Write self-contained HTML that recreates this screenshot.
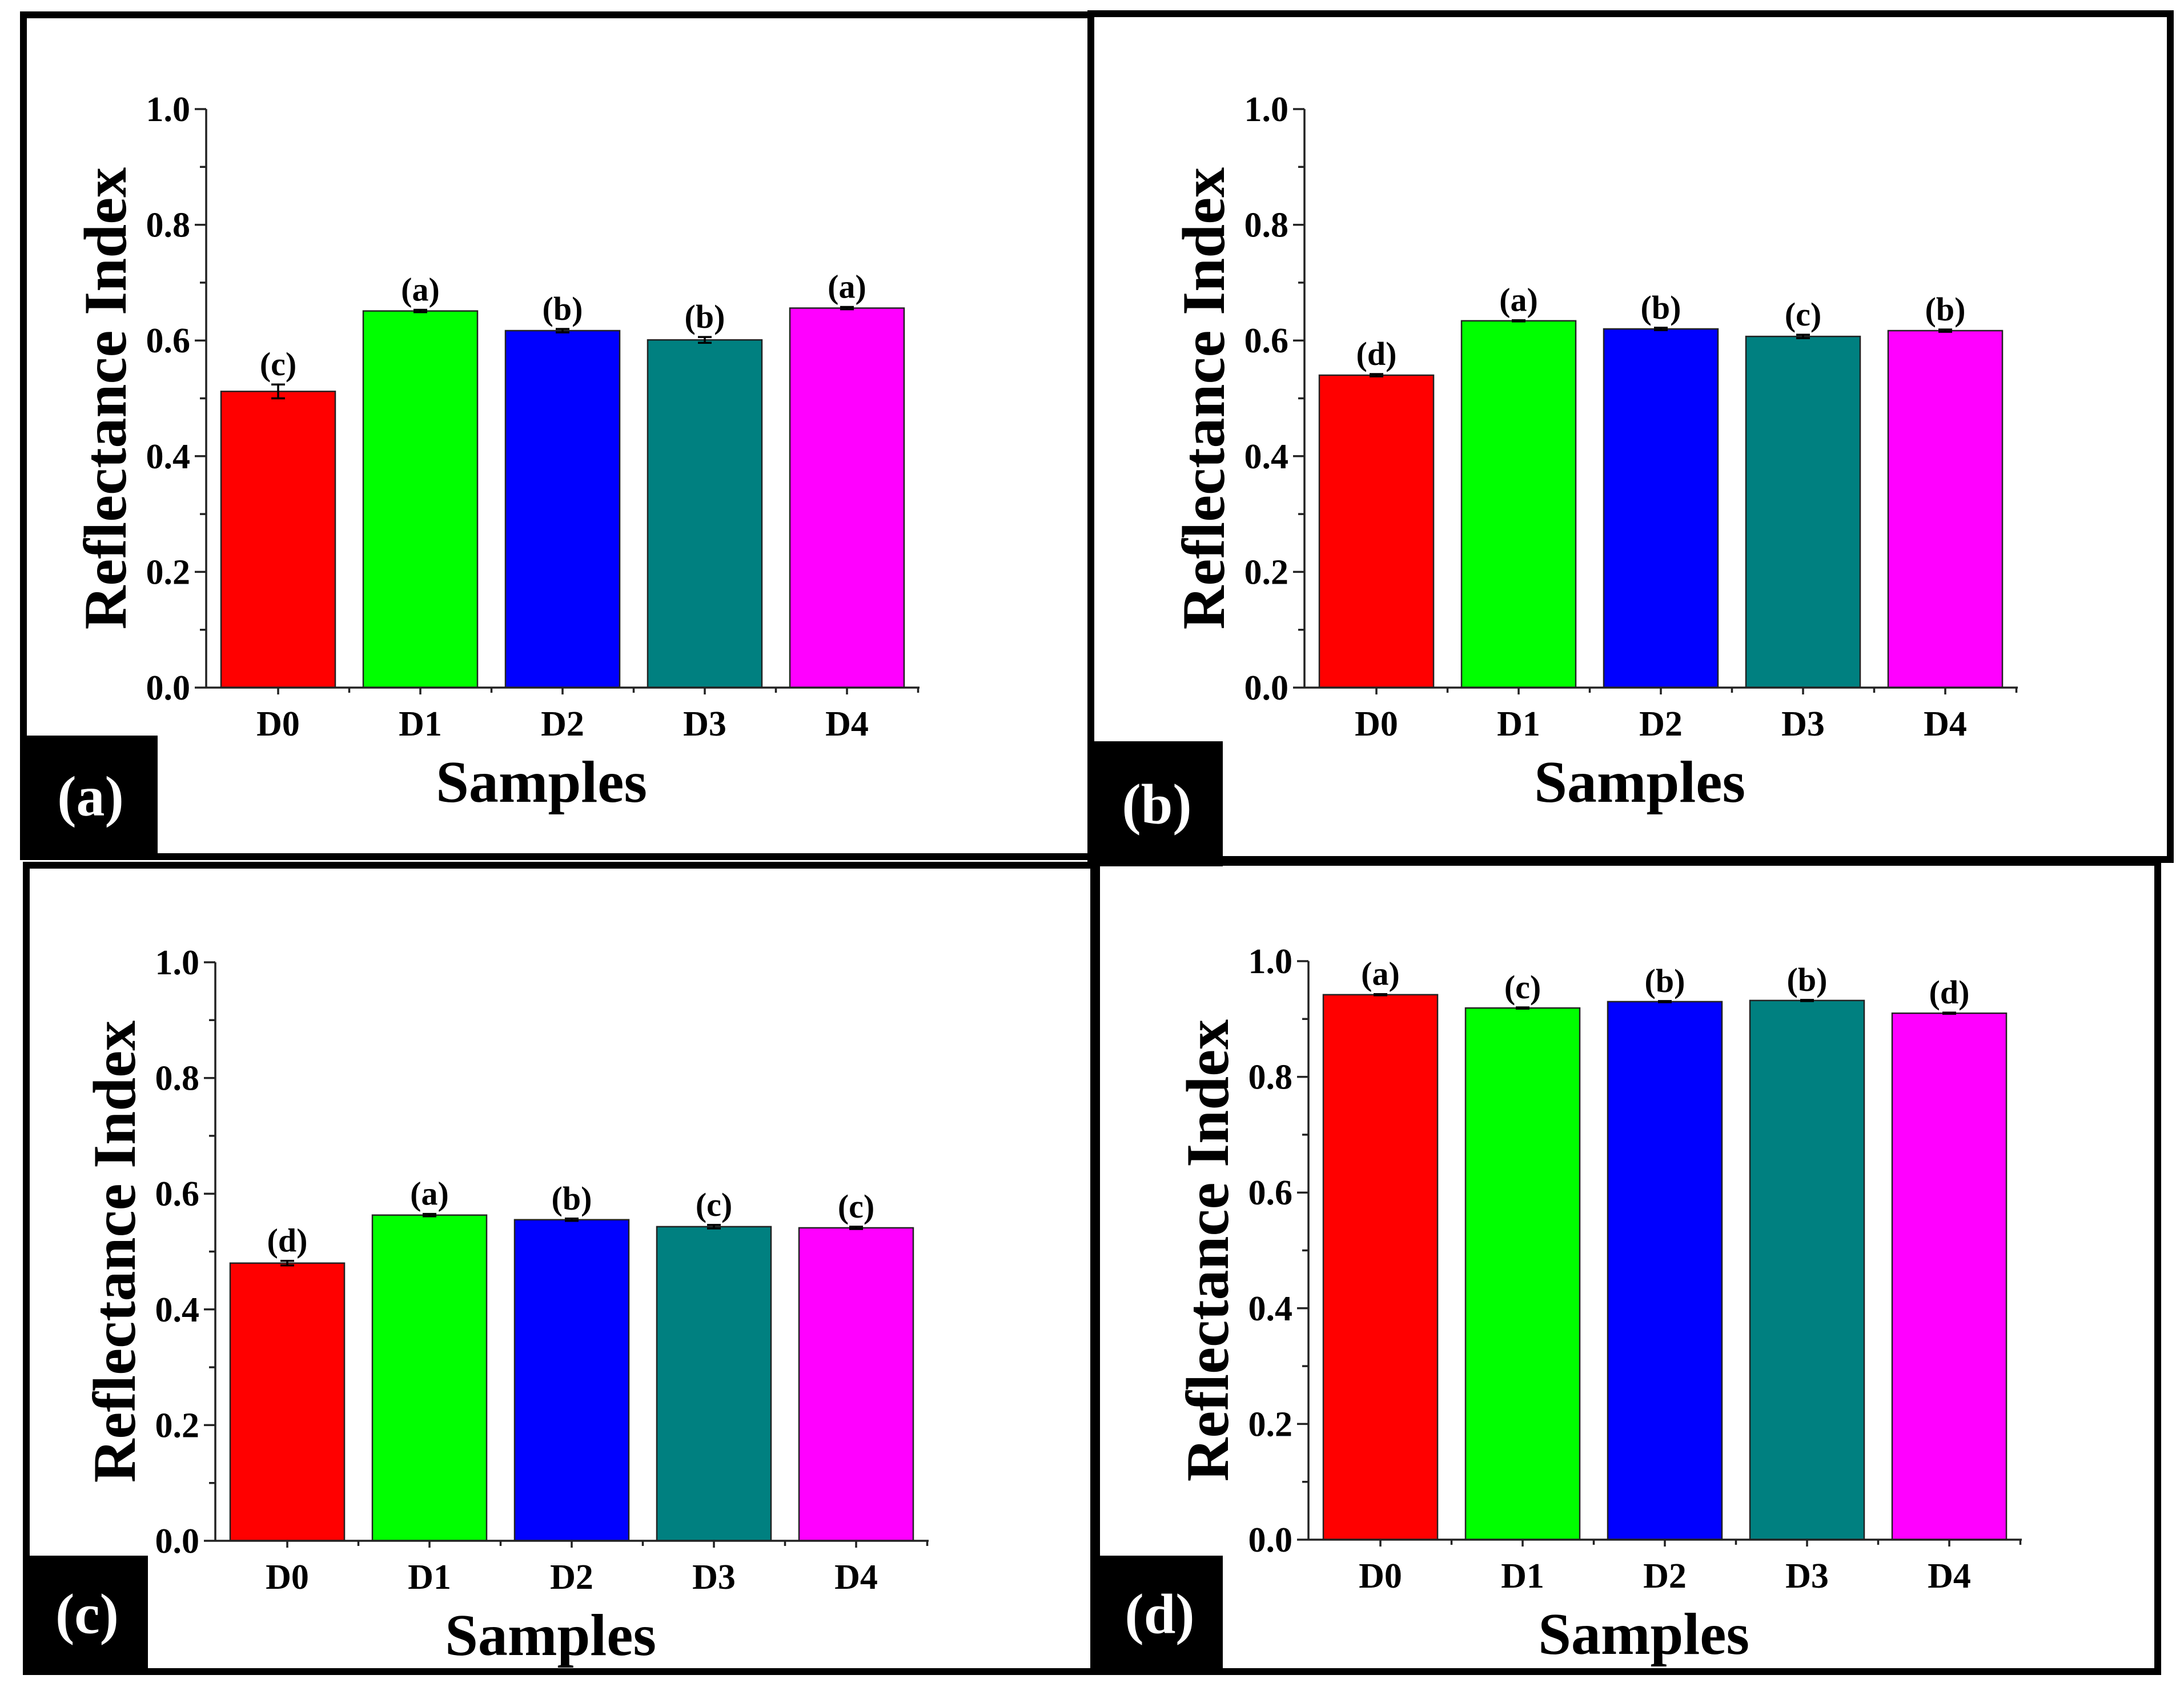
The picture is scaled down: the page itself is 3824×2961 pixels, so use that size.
<!DOCTYPE html>
<html><head><meta charset="utf-8"><style>
html,body{margin:0;padding:0;background:#fff;}
svg{display:block;font-family:"Liberation Serif",serif;font-weight:bold;}
</style></head><body>
<svg id="fig" width="3824" height="2961" viewBox="0 0 3824 2961" xmlns="http://www.w3.org/2000/svg"></svg>
<script>
const categories = ["D0","D1","D2","D3","D4"];
const colors = ["#ff0000","#00ff00","#0000ff","#008080","#ff00ff"];
const yTicks = [0,0.2,0.4,0.6,0.8,1.0];
const tickLabels = ["0.0","0.2","0.4","0.6","0.8","1.0"];
const valuesA = [0.512,0.651,0.617,0.601,0.656];
const errorsA = [0.012,0.002,0.003,0.005,0.002];
const lettersA = ["(c)","(a)","(b)","(b)","(a)"];
const valuesB = [0.540,0.634,0.620,0.607,0.617];
const errorsB = [0.002,0.001,0.002,0.003,0.002];
const lettersB = ["(d)","(a)","(b)","(c)","(b)"];
const valuesC = [0.480,0.563,0.555,0.543,0.541];
const errorsC = [0.004,0.002,0.002,0.003,0.002];
const lettersC = ["(d)","(a)","(b)","(c)","(c)"];
const valuesD = [0.942,0.919,0.930,0.932,0.910];
const errorsD = [0.001,0.001,0.001,0.001,0.001];
const lettersD = ["(a)","(c)","(b)","(b)","(d)"];

const NS="http://www.w3.org/2000/svg";
const svg=document.getElementById('fig');
function mk(tag,attrs,parent){const e=document.createElementNS(NS,tag);for(const k in attrs)e.setAttribute(k,attrs[k]);(parent||svg).appendChild(e);return e;}

const panels=[
 {id:'a',dx:0,dy:0,vals:valuesA,errs:errorsA,lets:lettersA,frame:[41,26,1910,1500],box:[41,1288,276,1500]},
 {id:'b',dx:1923,dy:0,vals:valuesB,errs:errorsB,lets:lettersB,frame:[1910,24,3800,1505],box:[1910,1298,2141,1517]},
 {id:'c',dx:16,dy:1494,vals:valuesC,errs:errorsC,lets:lettersC,frame:[46,1515,1915,2927],box:[46,2724,259,2927]},
 {id:'d',dx:1930,dy:1492,vals:valuesD,errs:errorsD,lets:lettersD,frame:[1920,1510,3778,2927],box:[1920,2724,2141,2927]}
];

panels.forEach(p=>{
  const g=mk('g',{});
  
  
  const f=p.frame;
  const fr=mk('rect',{x:f[0],y:f[1],width:f[2]-f[0],height:f[3]-f[1],fill:'none',stroke:'#000','stroke-width':12},g);
  
  
  const ax0=361+p.dx, ax1=1610+p.dx, y0=1204+p.dy, H=1013;
  const yS=v=>y0-v*H;
  const xC=i=>487+p.dx+i*249;
  const bw=200;
  // bars
  p.vals.forEach((v,i)=>{
    const r=mk('rect',{x:xC(i)-bw/2,y:yS(v),width:bw,height:y0-yS(v),fill:colors[i],stroke:'#222','stroke-width':2.5},g);
    
    
    const e=p.errs[i];
    const eb=mk('path',{d:`M${xC(i)-12},${yS(v+e)}H${xC(i)+12}M${xC(i)},${yS(v+e)}V${yS(v-e)}M${xC(i)-12},${yS(v-e)}H${xC(i)+12}`,stroke:'#000','stroke-width':3.5,fill:'none'},g);
    
    
    const t=mk('text',{x:xC(i),y:yS(v+e)-16,'text-anchor':'middle','font-size':58},g);
    t.textContent=p.lets[i];
    
    
    const xl=mk('text',{x:xC(i),y:y0+84,'text-anchor':'middle','font-size':62},g);
    xl.textContent=categories[i];
    
    
  });
  // axes
  let d=`M${ax0},${yS(1)}V${y0}H${ax1}`;
  for(let k=0;k<=10;k++){const y=yS(k/10);d+=`M${ax0},${y}H${ax0-(k%2==0?20:11)}`;}
  for(let i=0;i<5;i++){d+=`M${xC(i)},${y0}V${y0+12}`;d+=`M${xC(i)+124.5},${y0}V${y0+9}`;}
  const axp=mk('path',{d:d,stroke:'#222','stroke-width':3.5,fill:'none'},g);
  
  
  yTicks.forEach((v,k)=>{
    const t=mk('text',{x:ax0-28,y:yS(v)+21,'text-anchor':'end','font-size':62},g);
    t.textContent=tickLabels[k];
    
    
  });
  const yt=mk('text',{x:0,y:0,'text-anchor':'middle','font-size':106,transform:`translate(${220+p.dx},${yS(0.5)}) rotate(-90)`},g);
  yt.textContent='Reflectance Index';
  
  
  const xt=mk('text',{x:948+p.dx,y:y0+200,'text-anchor':'middle','font-size':104},g);
  xt.textContent='Samples';
  
  
  const b=p.box;
  const br=mk('rect',{x:b[0],y:b[1],width:b[2]-b[0],height:b[3]-b[1],fill:'#000'},g);
  
  
  const bt=mk('text',{x:(b[0]+b[2])/2,y:(b[1]+b[3])/2+34,'text-anchor':'middle','font-size':100,fill:'#fff'},g);
  bt.textContent='('+p.id+')';
  
  
});
</script>
</body></html>
